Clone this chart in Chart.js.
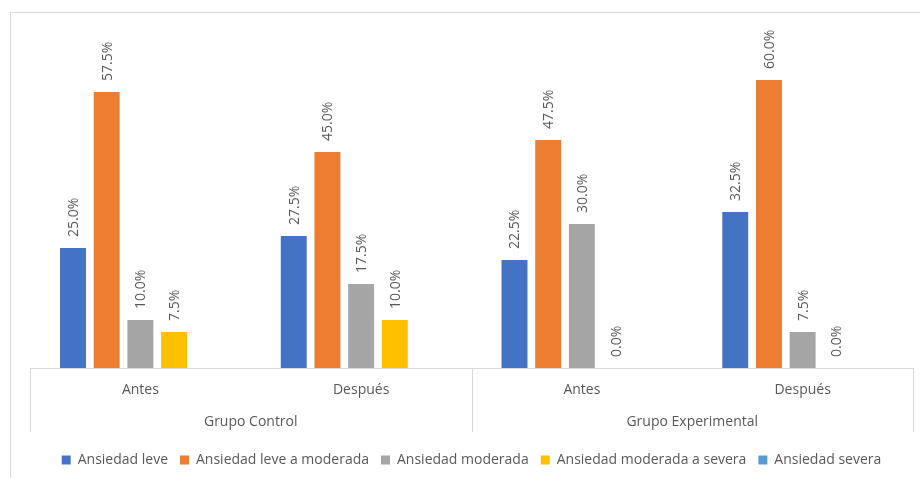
<!DOCTYPE html>
<html>
<head>
<meta charset="utf-8">
<script src="https://cdn.jsdelivr.net/npm/chart.js@4"></script>
<style>
  html, body { margin: 0; padding: 0; background: #fff; }
  #wrap { width: 920px; height: 478px; }
</style>
</head>
<body>
<div id="wrap"><canvas id="AnsiedadChart" width="920" height="478"></canvas></div>
<script>
var momentos = ["Antes", "Después", "Antes", "Después"];
var grupos = ["Grupo Control", "Grupo Experimental"];

var leve = [25.0, 27.5, 22.5, 32.5];
var leveModerada = [57.5, 45.0, 47.5, 60.0];
var moderada = [10.0, 17.5, 30.0, 7.5];
var moderadaSevera = [7.5, 10.0, 0.0, 0.0];
var severa = [null, null, null, null];

var textColor = "#595959";
var lineColor = "#d9d9d9";
var fontFamily = "'Open Sans', 'Liberation Sans', sans-serif";

// value labels written vertically above each bar
var barLabels = {
  id: "barLabels",
  afterDatasetsDraw: function (chart) {
    var ctx = chart.ctx;
    ctx.save();
    ctx.fillStyle = textColor;
    ctx.font = "14px " + fontFamily;
    ctx.textAlign = "left";
    ctx.textBaseline = "middle";
    chart.data.datasets.forEach(function (ds, i) {
      var meta = chart.getDatasetMeta(i);
      meta.data.forEach(function (bar, j) {
        var v = ds.data[j];
        if (v === null || v === undefined) return;
        ctx.save();
        ctx.translate(bar.x + 1, bar.y - 11);
        ctx.rotate(-Math.PI / 2);
        ctx.fillText(v.toFixed(1) + "%", 0, 0);
        ctx.restore();
      });
    });
    ctx.restore();
  }
};

// frame, group separators and second row of category labels
var groupAxis = {
  id: "groupAxis",
  beforeDraw: function (chart) {
    var ctx = chart.ctx;
    ctx.save();
    ctx.strokeStyle = lineColor;
    ctx.lineWidth = 1;
    ctx.strokeRect(10.5, 12.5, 940, 500);
    ctx.restore();
  },
  afterDraw: function (chart) {
    var ctx = chart.ctx;
    var x = chart.scales.x;
    var top = x.top;
    var bottom = x.top + 64;
    var mid = (x.getPixelForValue(1) + x.getPixelForValue(2)) / 2;
    ctx.save();
    ctx.strokeStyle = lineColor;
    ctx.lineWidth = 1;
    [x.left, mid, x.right].forEach(function (px) {
      px = Math.round(px) + 0.5;
      ctx.beginPath();
      ctx.moveTo(px, top);
      ctx.lineTo(px, bottom);
      ctx.stroke();
    });
    ctx.fillStyle = textColor;
    ctx.font = "14px " + fontFamily;
    ctx.textAlign = "center";
    ctx.textBaseline = "middle";
    grupos.forEach(function (g, k) {
      var cx = (x.getPixelForValue(2 * k) + x.getPixelForValue(2 * k + 1)) / 2;
      ctx.fillText(g, cx, top + 54);
    });
    ctx.restore();
  }
};

new Chart("AnsiedadChart", {
  type: "bar",
  data: {
    labels: momentos,
    datasets: [
      { label: "Ansiedad leve", data: leve, backgroundColor: "#4472C4" },
      { label: "Ansiedad leve a moderada", data: leveModerada, backgroundColor: "#ED7D31" },
      { label: "Ansiedad moderada", data: moderada, backgroundColor: "#A5A5A5" },
      { label: "Ansiedad moderada a severa", data: moderadaSevera, backgroundColor: "#FFC000" },
      { label: "Ansiedad severa", data: severa, backgroundColor: "#5B9BD5" }
    ]
  },
  options: {
    responsive: false,
    animation: false,
    layout: { padding: { left: 30, right: 7, top: 32, bottom: 1 } },
    datasets: {
      bar: { categoryPercentage: 0.763, barPercentage: 0.77, borderWidth: 0 }
    },
    scales: {
      x: {
        grid: { display: false, drawTicks: false },
        border: { display: true, color: lineColor },
        ticks: { color: textColor, font: { size: 14, family: fontFamily }, padding: 14 },
        afterFit: function (scale) { scale.height = 73; }
      },
      y: { display: false, min: 0, max: 70 }
    },
    plugins: {
      legend: {
        position: "bottom",
        labels: {
          boxWidth: 9,
          boxHeight: 9,
          padding: 12,
          color: textColor,
          font: { size: 14, family: fontFamily }
        }
      },
      tooltip: { enabled: false }
    }
  },
  plugins: [barLabels, groupAxis]
});
</script>
</body>
</html>
